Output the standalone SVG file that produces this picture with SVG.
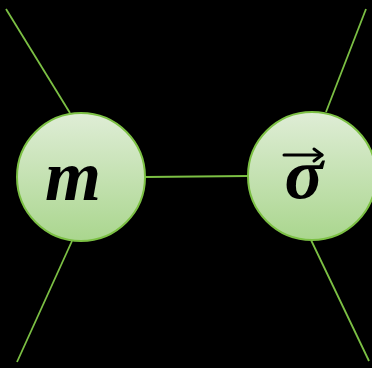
<svg xmlns="http://www.w3.org/2000/svg" width="372" height="368" viewBox="0 0 372 368">
<defs>
<linearGradient id="g" x1="0" y1="0" x2="0" y2="1">
<stop offset="0" stop-color="#dfedd6"/>
<stop offset="1" stop-color="#aad68e"/>
</linearGradient>
<style>
.edge{stroke:#7cc044;stroke-width:1.8;fill:none}
.node{fill:url(#g);stroke:#7cc044;stroke-width:2}
.lbl{font-family:"Liberation Serif","DejaVu Serif",serif;font-style:italic;font-weight:bold;font-size:72px;fill:#000;text-anchor:middle}
</style>
</defs>
<rect width="372" height="368" fill="#000"/>
<g id="connectors">
<line class="edge" x1="6" y1="9" x2="70" y2="113"/>
<line class="edge" x1="72" y1="241" x2="17" y2="362"/>
<line class="edge" x1="145" y1="177" x2="248" y2="176"/>
<line class="edge" x1="366" y1="9" x2="326" y2="112"/>
<line class="edge" x1="311" y1="240" x2="369" y2="361"/>
</g>
<g id="node-m">
<circle class="node" cx="81" cy="177" r="64"/>
<text class="lbl" x="73" y="200">m</text>
</g>
<g id="node-sigma">
<circle class="node" cx="312" cy="176" r="64"/>
<text class="lbl" x="304" y="198">σ</text>
<g stroke="#000" stroke-width="3" fill="none" stroke-linecap="round" stroke-linejoin="round">
<line x1="284" y1="155" x2="322" y2="155"/>
<polyline points="314,149 322,155 314,161"/>
</g>
</g>
</svg>
